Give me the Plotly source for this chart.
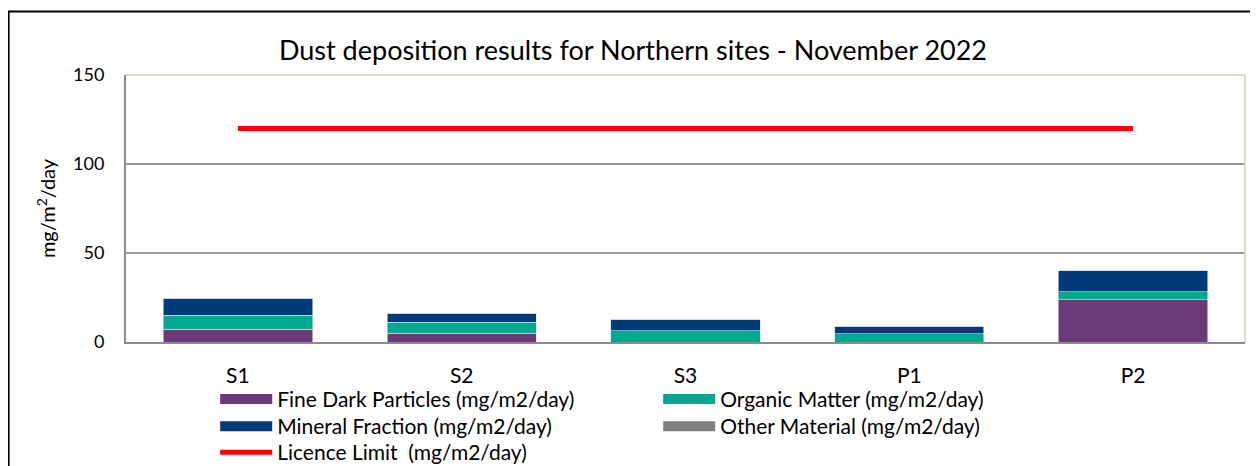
import plotly.graph_objects as go

sites = ["S1", "S2", "S3", "P1", "P2"]
fine_dark = [7.3, 4.9, 0.0, 0.0, 23.8]
organic = [7.7, 6.3, 6.3, 4.5, 4.3]
mineral = [9.7, 4.9, 6.4, 4.3, 11.8]
other = [0.0, 0.0, 0.0, 0.0, 0.0]
licence = [120, 120, 120, 120, 120]

FONT = "Lato"
fig = go.Figure()
line_c = "rgba(220,220,230,0.9)"
series = [
    ("Fine Dark Particles (mg/m2/day)", fine_dark, "#6B3A78", "legend"),
    ("Organic Matter (mg/m2/day)", organic, "#00A88F", "legend"),
    ("Mineral Fraction (mg/m2/day)", mineral, "#003A78", "legend2"),
    ("Other Material (mg/m2/day)", other, "#808080", "legend2"),
]
for name, vals, col, lg in series:
    fig.add_trace(go.Bar(x=sites, y=vals, name=name, showlegend=False,
                         marker=dict(color=col, line=dict(color=line_c, width=0.7))))
# legend proxies (wide rectangular swatches)
for name, vals, col, lg in series:
    fig.add_trace(go.Scatter(x=[None], y=[None], mode="lines", name=name, legend=lg,
                             line=dict(color=col, width=13)))

fig.add_trace(go.Scatter(x=sites, y=licence, mode="lines", name="Licence Limit  (mg/m2/day)",
                         legend="legend3", line=dict(color="#FF0000", width=5)))

leg_common = dict(orientation="h", x=0.0797, xanchor="left", yanchor="top",
                  entrywidth=376, entrywidthmode="pixels", font=dict(size=21, family=FONT),
                  traceorder="normal", itemwidth=52, bgcolor="rgba(0,0,0,0)")

fig.update_layout(
    barmode="stack",
    bargap=0.333,
    width=1250, height=458,
    margin=dict(l=118, r=13, t=67, b=124, autoexpand=False),
    paper_bgcolor="white", plot_bgcolor="white",
    font=dict(family=FONT, color="black"),
    title=dict(text="Dust deposition results for Northern sites - November 2022",
               x=0.5, xanchor="center", y=0.908, yanchor="middle",
               font=dict(size=27, family=FONT, color="black")),
    legend=dict(y=-0.138, **leg_common),
    legend2=dict(y=-0.2397, **leg_common),
    legend3=dict(y=-0.337, **leg_common),
    showlegend=True,
)
fig.update_xaxes(showline=True, linecolor="#8c8c8c", linewidth=2, showgrid=False,
                 tickfont=dict(size=21, family=FONT), ticklabelstandoff=14, ticks="")
fig.update_yaxes(range=[0, 150], tickvals=[0, 50, 100, 150], showline=True, linecolor="#8c8c8c",
                 linewidth=2, gridcolor="#9a9a9a", gridwidth=2, zeroline=False,
                 tickfont=dict(size=18, family=FONT), ticklabelstandoff=16,
                 title=dict(text="mg/m<sup>2</sup>/day", font=dict(size=20, family=FONT), standoff=12))

# plot-area frame (top and right, beige)
fig.add_shape(type="line", xref="paper", yref="paper", x0=0, x1=1, y0=1, y1=1,
              line=dict(color="#E0DCC6", width=2), layer="above")
fig.add_shape(type="line", xref="paper", yref="paper", x0=1, x1=1, y0=0, y1=1,
              line=dict(color="#E0DCC6", width=2), layer="above")
# outer chart border
fig.add_shape(type="rect", xref="paper", yref="paper", x0=-0.1049, x1=1.05, y0=-0.6, y1=1.2378,
              line=dict(color="black", width=2), fillcolor="rgba(0,0,0,0)", layer="below")

fig.write_html("out.html")
